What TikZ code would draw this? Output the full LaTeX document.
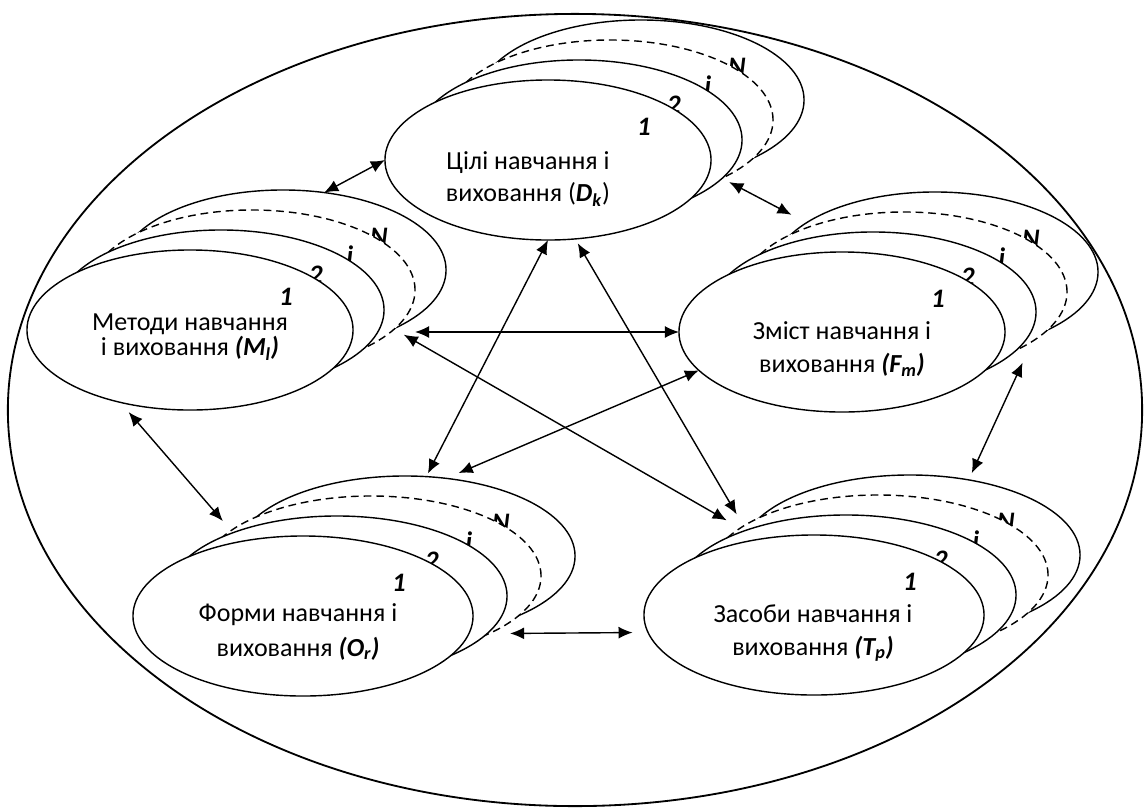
\documentclass[tikz,border=0pt]{standalone}
\usepackage{fontspec}
\setmainfont{Carlito}
\usetikzlibrary{shapes.geometric,arrows.meta}
\newcommand{\bvar}[1]{\textbf{\textit{#1}}}
\tikzset{
	stk/.style={draw, ellipse, fill=white, line width=1pt, minimum height=4cm, inner sep=0pt, outer sep=0pt},
	num/.style={font=\fontsize{19}{19}\selectfont\bfseries\itshape, inner sep=0pt},
	txt/.style={align=center, inner sep=0pt, font=\fontsize{18.5}{22.8}\selectfont},
	arr/.style={<->, line width=1pt}
}
\begin{document}
\begin{tikzpicture}[x=0.025cm, y=-0.025cm, >={Latex[length=10pt,width=8.5pt]}]
		\useasboundingbox (0,0) rectangle (1144,811);
		% outer ellipse
		\node[draw, ellipse, line width=1.3pt, minimum width=28.35cm, minimum height=19.8cm, inner sep=0pt] (all) at (575,410) {};
		% stacks: N, i (dashed), 2, 1
		\foreach \n/\x/\y/\dx/\w in {D/548/160/31/8.15cm, M/190/330/31/8.15cm, F/842/332/31/8.15cm, O/303/616/34/8.5cm, T/814/615/32/8.5cm}{
			\node[stk, minimum width=\w] (\n4) at (\x+3*\dx,\y-60) {};
			\node[num] (\n4l) at ([shift={(96,-33)}]\n4.center) {N};
			\node[stk, dash pattern=on 5.5pt off 3.5pt, minimum width=\w] (\n3) at (\x+2*\dx,\y-40) {};
			\node[num] (\n3l) at ([shift={(98,-35)}]\n3.center) {i};
			\node[stk, minimum width=\w] (\n2) at (\x+\dx,\y-20) {};
			\node[num] (\n2l) at ([shift={(95,-35)}]\n2.center) {2};
			\node[stk, minimum width=\w] (\n1) at (\x,\y) {};
			\node[num] (\n1l) at ([shift={(96,-33)}]\n1.center) {1};
		}
		% texts
		\node[txt] (Dt) at ([shift={(-20,19)}]D1.center) {Цілі навчання і\\виховання (\bvar{D}\textsubscript{\bvar{k}})};
		\node[txt, font=\fontsize{18.5}{16}\selectfont] (Mt) at ([shift={(0,7)}]M1.center) {Методи навчання\\і виховання \bvar{(M\textsubscript{l})}};
		\node[txt, font=\fontsize{18.5}{23.5}\selectfont] (Ft) at ([shift={(0,17)}]F1.center) {Зміст навчання і\\виховання \bvar{(F\textsubscript{m})}};
		\node[txt, font=\fontsize{18.5}{24.5}\selectfont] (Ot) at ([shift={(-5,16)}]O1.center) {Форми навчання і\\виховання \bvar{(O\textsubscript{r})}};
		\node[txt, font=\fontsize{18.5}{23.5}\selectfont] (Tt) at ([shift={(-1,18)}]T1.center) {Засоби навчання і\\виховання \bvar{(T\textsubscript{p})}};
		% links
		\draw[arr] (M4.62) -- (D1.west);
		\draw[arr, shorten <=5.7pt, shorten >=12.1pt] (D2.-15) -- (F4.159);
		\draw[arr] (F1.west -| M3.east) -- (F1.west);
		\draw[arr, shorten <=8.4pt, shorten >=16.7pt] (M4.-28) -- (T4.172);
		\draw[arr, shorten <=3.6pt, shorten >=14.6pt] (D1.-71) -- (T4.172);
		\draw[arr, shorten >=2.5pt] (D1.south) -- (O4.75);
		\draw[arr, shorten >=9.6pt] (F1.195) -- (O4.62);
		\draw[arr, shorten <=16.7pt, shorten >=5.3pt] (F3.-21) -- (T4.52);
		\draw[arr, shorten <=9.2pt, shorten >=8.9pt] (M1.226) -- (O3.162);
		\draw[arr, shorten <=14.9pt, shorten >=11pt] (O3.-26) -- (T1.186);
\end{tikzpicture}
\end{document}
